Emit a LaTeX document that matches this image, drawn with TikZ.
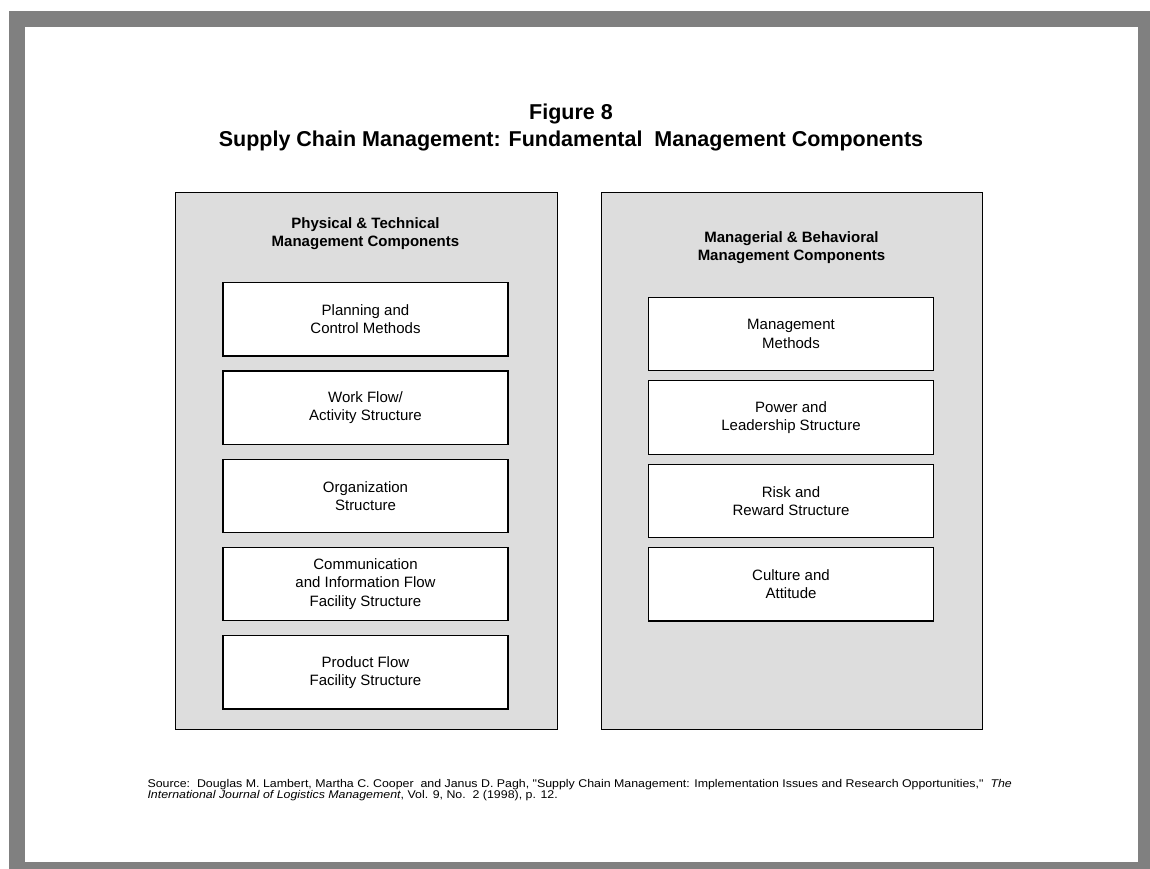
\documentclass[tikz,border=0pt]{standalone}
\usepackage{fontspec}
\setmainfont{Liberation Sans}
\newfontfamily\notefont[FakeStretch=1.105]{Liberation Sans}
\definecolor{framegray}{RGB}{128,128,128}
\definecolor{panelgray}{RGB}{221,221,221}

\begin{document}
\begin{tikzpicture}[x=1pt, y=-1pt,
        panel/.style={draw=black, line width=1pt, fill=panelgray, anchor=north west, inner sep=0pt},
        compbox/.style={draw=black, line width=1.2pt, fill=white, minimum width=285, minimum height=73.3,
            align=center, inner sep=0pt, font=\fontsize{15}{18.3}\selectfont},
        heading/.style={align=center, inner sep=0pt, font=\bfseries\fontsize{15}{18.3}\selectfont}]
            \useasboundingbox (0,0) rectangle (1150,869);
            \fill[white] (0,0) rectangle (1150,869);
            \fill[framegray] (9,11) rectangle (1150,869);
            \fill[white] (25,27) rectangle (1138,862);
            % title
            \node[align=center, inner sep=0pt, font=\bfseries\fontsize{21.5}{27}\selectfont] (title) at (571,127)
                {Figure 8\\Supply Chain Management: Fundamental\ \ Management Components};
            % left panel
            \node[panel, minimum width=381.5, minimum height=537] (physpanel) at (175,192) {};
            \node[heading] (physhead) at (365.5,233.6) {Physical \& Technical\\Management Components};
            \node[compbox] (planning) at (365.5,319.4) {Planning and\\Control Methods};
            \node[compbox] (workflow) at (365.5,407.6) {Work Flow/\\Activity Structure};
            \node[compbox] (orgstruct) at (365.5,495.8) {Organization\\Structure};
            \node[compbox] (commflow) at (365.5,584) {Communication\\and Information Flow\\Facility Structure};
            \node[compbox] (prodflow) at (365.5,672.3) {Product Flow\\Facility Structure};
            % right panel
            \node[panel, minimum width=381.3, minimum height=536.5] (mgrpanel) at (601,192) {};
            \node[heading] (mgrhead) at (791.5,247.6) {Managerial \& Behavioral\\Management Components};
            \node[compbox] (mgmtmeth) at (791,334) {Management\\Methods};
            \node[compbox] (power) at (791,417.5) {Power and\\Leadership Structure};
            \node[compbox] (risk) at (791,501) {Risk and\\Reward Structure};
            \node[compbox] (culture) at (791,584.4) {Culture and\\Attitude};
            % source line
            \node[anchor=north west, align=left, inner sep=0pt, font=\notefont\fontsize{11.2}{10}\selectfont] (source) at (147.3,779)
                {Source:\ \ Douglas M. Lambert, Martha C. Cooper\ \ and Janus D. Pagh, "Supply Chain Management: Implementation Issues and Research Opportunities,"\ \ \textit{The}\\
                \textit{International Journal of Logistics Management}, Vol. 9, No.\ \ 2 (1998), p. 12.};
        \end{tikzpicture}
\end{document}
